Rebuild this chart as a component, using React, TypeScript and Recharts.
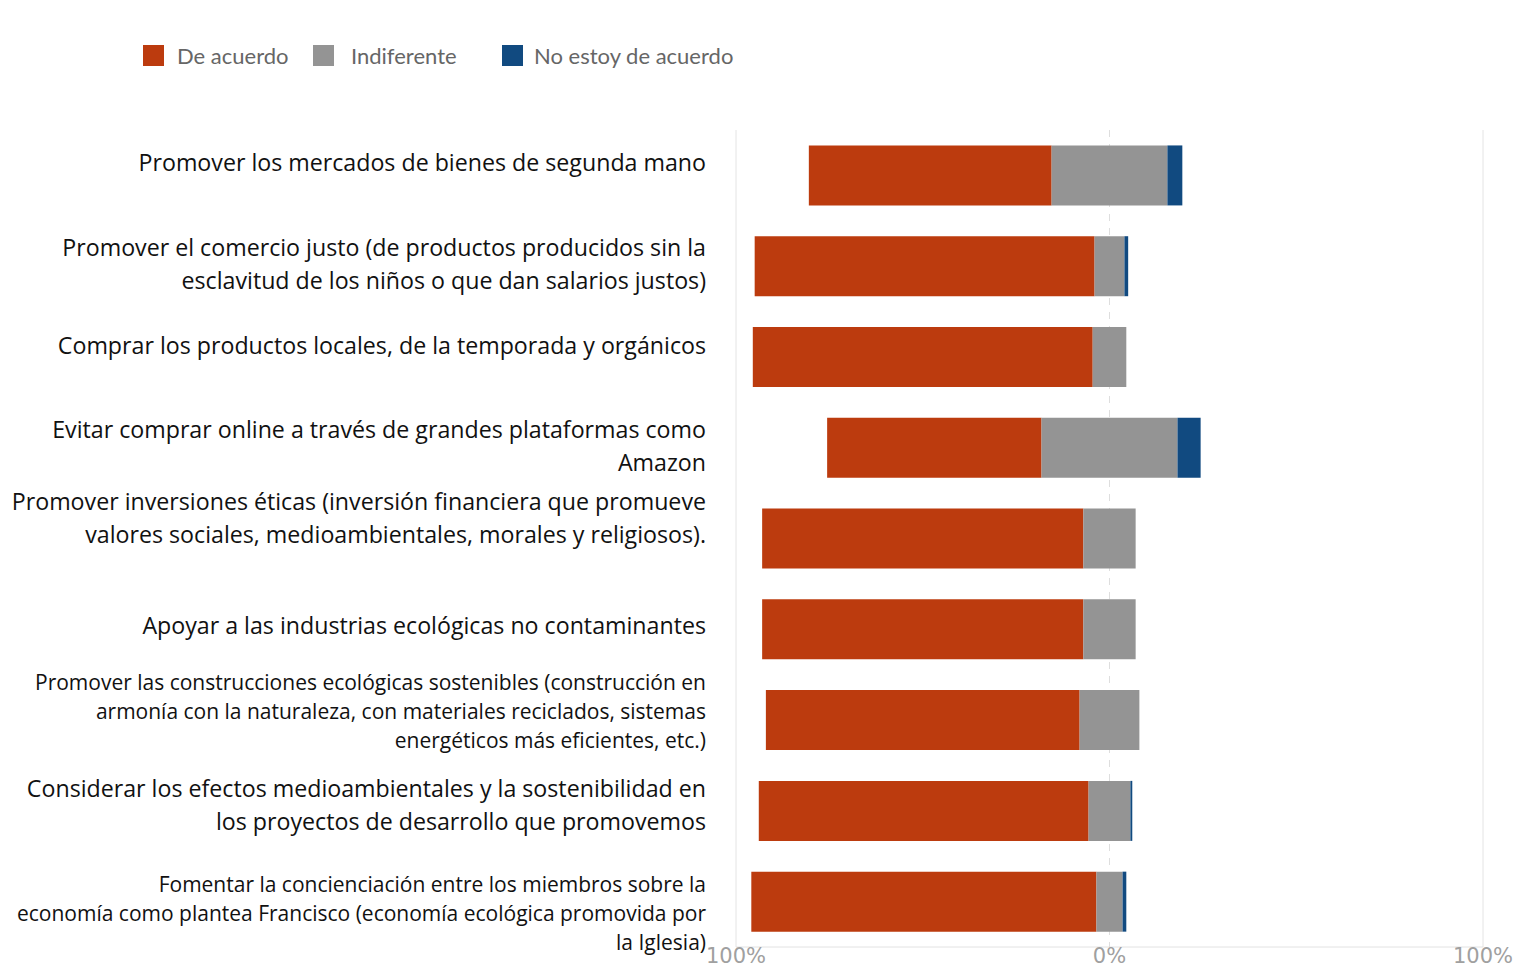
import { BarChart, Bar, XAxis, YAxis, CartesianGrid } from 'recharts';

// Encuesta: actitudes ante la economía ecológica (% de respuestas)
const PREGUNTAS = [
  'Promover los mercados de bienes de segunda mano',
  'Promover el comercio justo (de productos producidos sin la\nesclavitud de los niños o que dan salarios justos)',
  'Comprar los productos locales, de la temporada y orgánicos',
  'Evitar comprar online a través de grandes plataformas como\nAmazon',
  'Promover inversiones éticas (inversión financiera que promueve\nvalores sociales, medioambientales, morales y religiosos).',
  'Apoyar a las industrias ecológicas no contaminantes',
  'Promover las construcciones ecológicas sostenibles (construcción en\narmonía con la naturaleza, con materiales reciclados, sistemas\nenergéticos más eficientes, etc.)',
  'Considerar los efectos medioambientales y la sostenibilidad en\nlos proyectos de desarrollo que promovemos',
  'Fomentar la concienciación entre los miembros sobre la\neconomía como plantea Francisco (economía ecológica promovida por\nla Iglesia)',
];
const DE_ACUERDO = [65, 91, 91, 57.4, 86, 86, 84, 88.3, 92.4];
const INDIFERENTE = [31, 8, 9, 36.4, 14, 14, 16, 11.2, 7];
const NO_DE_ACUERDO = [4, 1, 0, 6.2, 0, 0, 0, 0.5, 1];
const TICKS = [-100, 0, 100];
const SERIES = ['De acuerdo', 'Indiferente', 'No estoy de acuerdo'];

const NARANJA = '#bc3b0e';
const GRIS = '#949494';
const AZUL = '#114a80';
const COLORES = [NARANJA, GRIS, AZUL];

// Tamaño de letra y desplazamiento vertical de cada etiqueta (como en el original)
const ESTILO_ETIQ = [
  { fs: 23.2, dy: -4 },
  { fs: 23.2, dy: -10 },
  { fs: 23.2, dy: -3 },
  { fs: 23.2, dy: -10 },
  { fs: 23.2, dy: -29 },
  { fs: 23.2, dy: 5 },
  { fs: 21, dy: -30 },
  { fs: 23.2, dy: -14 },
  { fs: 21, dy: -10 },
];

// La barra "Indiferente" queda centrada en el 0%
const rows = PREGUNTAS.map((name, i) => ({
  name,
  hueco: -(INDIFERENTE[i] / 2 + DE_ACUERDO[i]),
  acuerdo: DE_ACUERDO[i],
  indiferente: INDIFERENTE[i],
  desacuerdo: NO_DE_ACUERDO[i],
}));

const FUENTE = "'Open Sans', sans-serif";

function Etiqueta({ x, y, payload, index }: any) {
  const st = ESTILO_ETIQ[index] ?? { fs: 23, dy: 0 };
  const lineas = String(payload.value).split('\n');
  const lh = st.fs > 22 ? 33 : 29;
  return (
    <text x={x} y={y + st.dy} textAnchor="end" fontSize={st.fs} fill="#111" fontFamily={FUENTE}>
      {lineas.map((l, k) => (
        <tspan key={k} x={x} dy={k === 0 ? 0 : lh}>{l}</tspan>
      ))}
    </text>
  );
}

function Leyenda() {
  // posición de cada cuadrito y separación hasta su texto
  const anchos = [170, 189, 240];
  const sep = [13, 17, 11];
  return (
    <div style={{ position: 'absolute', top: 45, left: 143, display: 'flex', alignItems: 'center' }}>
      {SERIES.map((s, i) => (
        <div key={s} style={{ display: 'flex', alignItems: 'center', width: anchos[i] }}>
          <span style={{ width: 21, height: 21, background: COLORES[i], display: 'inline-block', marginRight: sep[i] }} />
          <span style={{ fontFamily: 'Lato, sans-serif', fontSize: 22, color: '#666', lineHeight: '21px', whiteSpace: 'nowrap' }}>{s}</span>
        </div>
      ))}
    </div>
  );
}

export default function App() {
  return (
    <div style={{ width: 1514, height: 967, position: 'relative', background: '#fff' }}>
      <style>{'body{margin:0}'}</style>
      <Leyenda />
      <BarChart
        width={1514}
        height={967}
        data={rows}
        layout="vertical"
        stackOffset="none"
        barCategoryGap="17%"
        margin={{ top: 130, right: 31, bottom: 0, left: 0 }}
      >
        <CartesianGrid horizontal={false} verticalValues={[-100, 100]} stroke="#e4e4e4" />
        <CartesianGrid horizontal={false} verticalValues={[0]} stroke="#dedede" strokeDasharray="7 7" />
        <XAxis
          type="number"
          domain={[-100, 100]}
          ticks={TICKS}
          allowDataOverflow
          tickFormatter={(v) => `${Math.abs(v)}%`}
          tick={{ fontSize: 21, fill: '#a0a0a0', fontFamily: "'DejaVu Sans', sans-serif" }}
          tickLine={false}
          tickSize={0}
          tickMargin={1}
          axisLine={{ stroke: '#e2e2e2' }}
          height={20}
        />
        <YAxis
          type="category"
          dataKey="name"
          width={736}
          tick={<Etiqueta />}
          tickLine={false}
          axisLine={false}
          tickSize={0}
          tickMargin={30}
          interval={0}
        />
        <Bar dataKey="hueco" stackId="s" fill="transparent" legendType="none" isAnimationActive={false} />
        <Bar dataKey="acuerdo" name={SERIES[0]} stackId="s" fill={NARANJA} isAnimationActive={false} />
        <Bar dataKey="indiferente" name={SERIES[1]} stackId="s" fill={GRIS} isAnimationActive={false} />
        <Bar dataKey="desacuerdo" name={SERIES[2]} stackId="s" fill={AZUL} isAnimationActive={false} />
      </BarChart>
    </div>
  );
}
